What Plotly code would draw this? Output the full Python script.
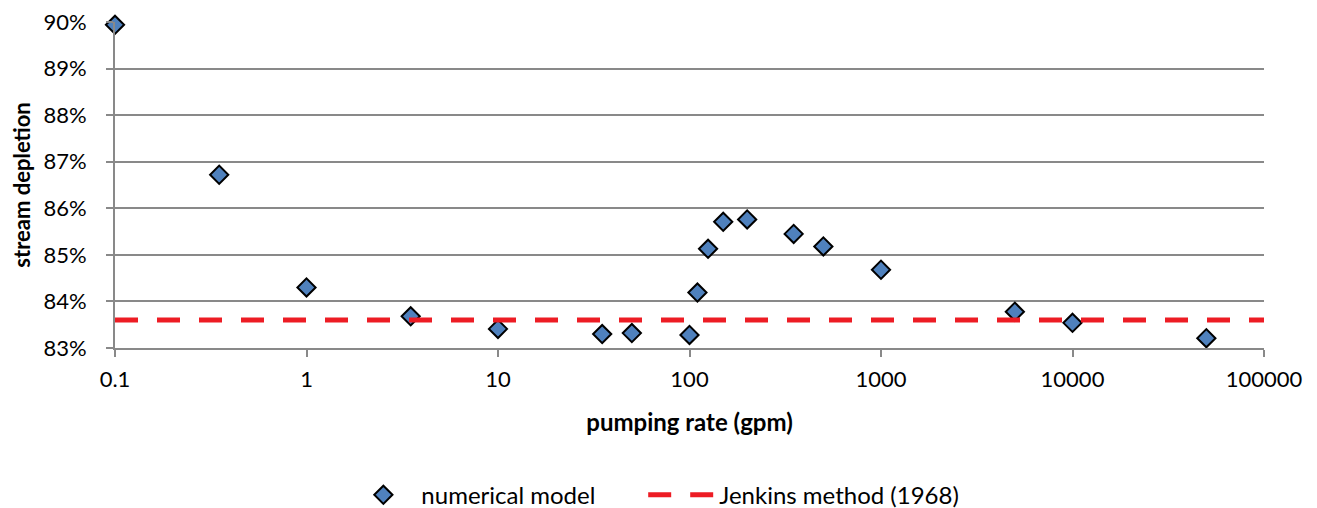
import plotly.graph_objects as go

# Data
pumping_rate_gpm = [0.1, 0.35, 1, 3.5, 10, 35, 50, 100, 110, 125, 150, 200, 350, 500, 1000, 5000, 10000, 50000]
stream_depletion_pct = [89.94, 86.72, 84.30, 83.68, 83.41, 83.30, 83.32, 83.28, 84.19, 85.13, 85.71, 85.76,
                        85.45, 85.18, 84.68, 83.78, 83.54, 83.21]

jenkins_x = [0.1, 100000]
jenkins_y = [83.6, 83.6]

x_tickvals = [0.1, 1, 10, 100, 1000, 10000, 100000]
x_ticktext = ["0.1", "1", "10", "100", "1000", "10000", "100000"]
y_tickvals = [83, 84, 85, 86, 87, 88, 89, 90]
y_ticktext = ["83%", "84%", "85%", "86%", "87%", "88%", "89%", "90%"]

FONT = "Lato, Carlito, Calibri, sans-serif"
GRID = "#898989"

fig = go.Figure()

fig.add_trace(go.Scatter(
    x=pumping_rate_gpm, y=stream_depletion_pct, mode="markers",
    name="numerical model", legend="legend",
    marker=dict(symbol="diamond", size=14, color="#4F81BD", line=dict(color="black", width=2)),
    cliponaxis=False,
))

fig.add_trace(go.Scatter(
    x=jenkins_x, y=jenkins_y, mode="lines",
    name="Jenkins method (1968)", legend="legend2",
    line=dict(color="#ED1C24", width=5, dash="23px,19px"),
))

legend_common = dict(
    orientation="h", yanchor="middle", xanchor="left", y=-0.4515,
    font=dict(size=24, family=FONT, color="black"),
    bgcolor="rgba(0,0,0,0)",
)

fig.update_layout(
    width=1309, height=500,
    margin=dict(l=107, r=53, t=14, b=160, autoexpand=False),
    plot_bgcolor="white", paper_bgcolor="white",
    font=dict(family=FONT, size=22, color="black"),
    showlegend=True,
    legend=dict(x=0.2005, itemwidth=66, **legend_common),
    legend2=dict(x=0.4597, itemwidth=66, **legend_common),
    xaxis=dict(
        type="log", range=[-1, 5], automargin=False,
        tickvals=x_tickvals, ticktext=x_ticktext,
        showgrid=False, zeroline=False,
        showline=True, linecolor=GRID, linewidth=2,
        ticks="outside", ticklen=7, tickwidth=2, tickcolor=GRID,
        ticklabelstandoff=4, ticklabeloverflow="allow",
        tickfont=dict(size=22, family=FONT),
        title=dict(text="<b>pumping rate (gpm)</b>", font=dict(size=24, family=FONT), standoff=23),
    ),
    yaxis=dict(
        range=[83, 90], automargin=False,
        tickvals=y_tickvals, ticktext=y_ticktext,
        showgrid=True, gridcolor=GRID, gridwidth=2, zeroline=False,
        showline=True, linecolor=GRID, linewidth=2,
        ticks="outside", ticklen=7, tickwidth=2, tickcolor=GRID,
        ticklabelstandoff=15, ticklabeloverflow="allow",
        tickfont=dict(size=22, family=FONT),
        title=dict(text="<b>stream depletion</b>", font=dict(size=22, family=FONT), standoff=20),
    ),
)

fig.write_html("out.html")
